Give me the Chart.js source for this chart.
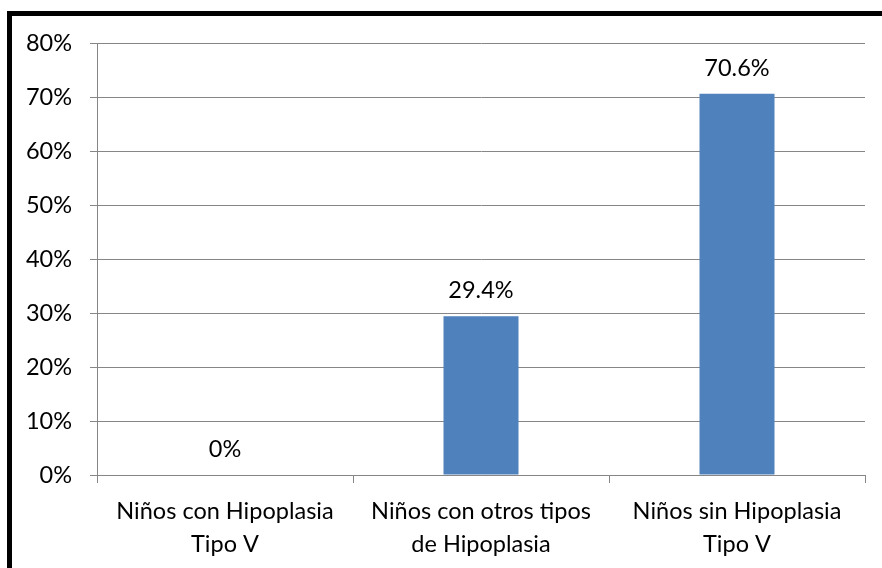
<!DOCTYPE html>
<html><head><meta charset="utf-8">
<script src="https://cdn.jsdelivr.net/npm/chart.js@4"></script>
<style>
html,body{margin:0;padding:0;background:#fff;overflow:hidden}
#frame{position:absolute;left:7px;top:11px;width:900px;height:600px;border:5px solid #000;box-sizing:border-box}
#wrap{position:absolute;left:0;top:0;width:882px;height:568px}
</style></head><body>
<div id="frame"></div>
<div id="wrap"><canvas id="c" width="882" height="568"></canvas></div>
<script>
const categories = [["Niños con Hipoplasia","Tipo V"],["Niños con otros tipos","de Hipoplasia"],["Niños sin Hipoplasia","Tipo V"]];
const values = [0, 29.4, 70.6];
const valueLabels = ["0%","29.4%","70.6%"];
const yTicks = [0,10,20,30,40,50,60,70,80];

const FONT = "Lato, 'Open Sans', sans-serif";
const FS = 23.5;
const labelPlugin = {
  id:'valLabels',
  afterDatasetsDraw(chart){
    const ctx = chart.ctx;
    const meta = chart.getDatasetMeta(0);
    ctx.save();
    ctx.font = FS + "px " + FONT;
    ctx.fillStyle = "#000";
    ctx.textAlign = "center";
    ctx.textBaseline = "alphabetic";
    meta.data.forEach((bar,i)=>{
      ctx.fillText(valueLabels[i], bar.x, bar.y - 18);
    });
    ctx.restore();
  }
};

new Chart(document.getElementById('c'), {
  type:'bar',
  data:{labels:categories, datasets:[{data:values, backgroundColor:'#4F81BD', barPercentage:0.293, categoryPercentage:1}]},
  options:{
    responsive:false, animation:false,
    layout:{padding:{top:43,right:17,left:0,bottom:0}},
    plugins:{legend:{display:false},tooltip:{enabled:false}},
    scales:{
      y:{min:0,max:80,
        afterBuildTicks(s){ s.ticks = yTicks.map(v=>({value:v})); },
        afterFit(s){ s.width = 97; },
        ticks:{callback:v=>v+'%', font:{family:FONT,size:FS}, color:'#000', padding:18},
        grid:{color:'#868686', lineWidth:1, tickLength:7},
        border:{color:'#868686'}
      },
      x:{
        afterFit(s){ s.height = 93; },
        ticks:{font:{family:FONT,size:FS,lineHeight:1.4}, color:'#000', padding:12, maxRotation:0},
        grid:{drawOnChartArea:false, color:'#868686', tickLength:8, offset:true},
        border:{color:'#868686'}
      }
    }
  },
  plugins:[labelPlugin]
});
</script>
</body></html>
